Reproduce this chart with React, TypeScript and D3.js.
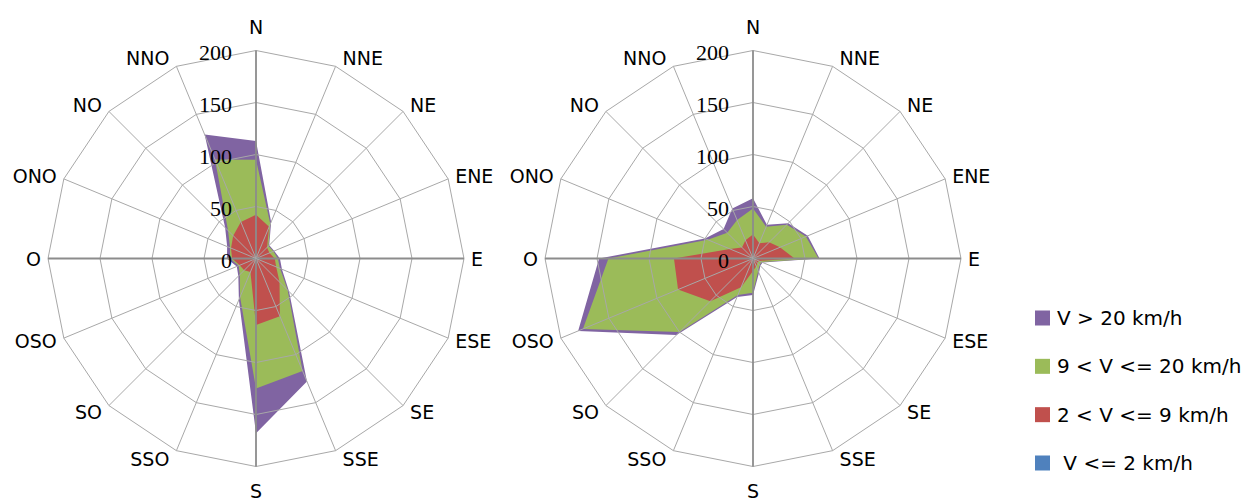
import React from 'react';
import * as d3 from 'd3';

const directions = ['N', 'NNE', 'NE', 'ENE', 'E', 'ESE', 'SE', 'SSE', 'S', 'SSO', 'SO', 'OSO', 'O', 'ONO', 'NO', 'NNO'];
const ringTicks = [0, 50, 100, 150, 200];
const ringGrid = [50, 100, 150, 200];

// Plotted values (as drawn in the filled radar) — left station
const leftGt20 = [113, 38, 18, 19, 23, 27, 45, 128, 168, 43, 24, 20, 28, 30, 42, 129];
const leftMid = [95, 36, 17, 18, 21, 25, 43, 117, 125, 40, 22, 18, 25, 27, 38, 103];
const leftLow = [42, 33, 15, 14, 18, 21, 32, 60, 64, 14, 16, 17, 23, 26, 31, 38];
const leftCalm = [2, 1, 1, 1, 2, 1, 1, 2, 2, 1, 1, 1, 2, 2, 1, 2];

// Plotted values — right station
const rightGt20 = [58, 35, 48, 57, 64, 10, 10, 15, 35, 40, 104, 182, 148, 50, 40, 52];
const rightMid = [48, 33, 46, 55, 63, 9, 9, 13, 33, 38, 100, 177, 139, 47, 35, 40];
const rightLow = [23, 16, 22, 28, 40, 6, 6, 8, 12, 30, 58, 78, 76, 24, 15, 19];
const rightCalm = [2, 1, 1, 2, 2, 1, 1, 1, 2, 1, 2, 2, 2, 1, 1, 1];

const seriesNames = ['V > 20 km/h', '9 < V <= 20 km/h', '2 < V <= 9 km/h', ' V <= 2 km/h'];
const seriesColors = ['#8064A2', '#9BBB59', '#C0504D', '#4F81BD'];

const W = 1242;
const H = 501;
const R = 208;
const CY = 258.5;
const N = directions.length;

const rScale = d3.scaleLinear().domain([0, 200]).range([0, R]);
const angle = (i: number) => (i * 2 * Math.PI) / N;

const radial = d3
  .lineRadial<number>()
  .angle((_, i) => angle(i))
  .radius((d) => rScale(d))
  .curve(d3.curveLinearClosed);

const dirFont = '"DejaVu Sans", sans-serif';
const tickFont = '"Liberation Serif", serif';

function Radar({ cx, series }: { cx: number; series: number[][] }) {
  return (
    <g>
      <g transform={`translate(${cx},${CY})`}>
        {series.map((vals, k) => (
          <path key={k} d={radial(vals) || ''} fill={seriesColors[k]} stroke="none" />
        ))}
        {ringGrid.map((v) => (
          <path
            key={v}
            d={radial(directions.map(() => v)) || ''}
            fill="none"
            stroke="#a8a8a8"
            strokeWidth={1}
          />
        ))}
        {directions.map((d, i) => {
          const a = angle(i);
          const main = i % 4 === 0;
          return (
            <line
              key={d}
              x1={0}
              y1={0}
              x2={rScale(200) * Math.sin(a)}
              y2={-rScale(200) * Math.cos(a)}
              stroke={main ? '#8c8c8c' : '#a8a8a8'}
              strokeWidth={main ? 1.8 : 1}
            />
          );
        })}
      </g>
      {ringTicks.map((v) => (
        <text
          key={v}
          x={cx - 24}
          y={CY - rScale(v) + 1.5}
          textAnchor="end"
          dominantBaseline="central"
          fontFamily={tickFont}
          fontSize={22}
          fill="#000"
        >
          {v}
        </text>
      ))}
      {directions.map((d, i) => {
        const a = angle(i);
        const s = Math.sin(a);
        const c = Math.cos(a);
        const px = cx + rScale(200) * s;
        const py = CY - rScale(200) * c;
        let x = px;
        let anchor = 'middle';
        let y = py - c * 24;
        if (Math.abs(s) > 0.01) {
          anchor = s > 0 ? 'start' : 'end';
          x = px + (s > 0 ? 7 : -7);
          y = py - c * 8.5;
        }
        return (
          <text
            key={d}
            x={x}
            y={y}
            textAnchor={anchor}
            dominantBaseline="central"
            fontFamily={dirFont}
            fontSize={19}
            fill="#000"
          >
            {d}
          </text>
        );
      })}
    </g>
  );
}

export default function App() {
  const legendY = d3.scalePoint<number>().domain([0, 1, 2, 3]).range([318, 463]);
  return (
    <svg
      width={W}
      height={H}
      style={{ position: 'absolute', left: 0, top: 0, background: '#fff' }}
    >
      <rect width={W} height={H} fill="#fff" />
      <Radar cx={256} series={[leftGt20, leftMid, leftLow, leftCalm]} />
      <Radar cx={753} series={[rightGt20, rightMid, rightLow, rightCalm]} />
      {seriesNames.map((name, k) => (
        <g key={name}>
          <rect x={1035} y={(legendY(k) as number) - 7.5} width={15} height={15} fill={seriesColors[k]} />
          <text
            x={1057}
            y={legendY(k) as number}
            dominantBaseline="central"
            fontFamily={dirFont}
            fontSize={20}
            fill="#000"
            style={{ whiteSpace: 'pre' }}
          >
            {name}
          </text>
        </g>
      ))}
    </svg>
  );
}
